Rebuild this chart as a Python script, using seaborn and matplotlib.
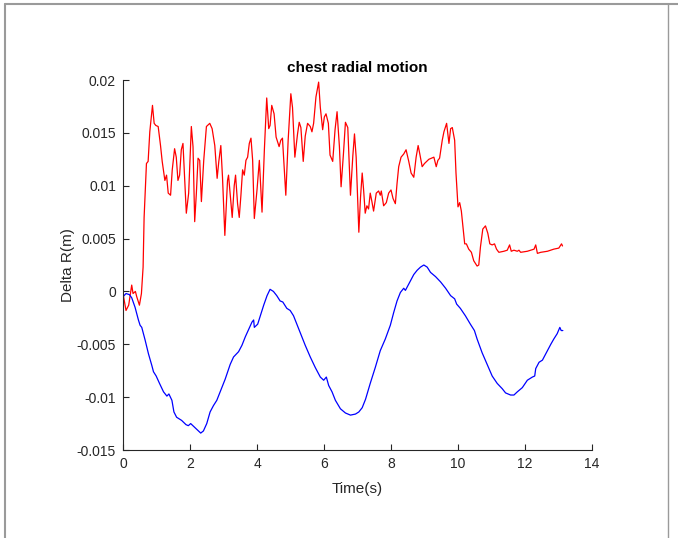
import numpy as np
import pandas as pd
import matplotlib
matplotlib.use("Agg")
import matplotlib.pyplot as plt
from matplotlib.lines import Line2D
import seaborn as sns

# ---- data ----
t_red = [0.00, 0.09, 0.17, 0.26, 0.30, 0.37, 0.41, 0.49, 0.55, 0.60, 0.63, 0.70, 0.75, 0.80, 0.88, 0.93, 0.98,
         1.05, 1.12, 1.17, 1.25, 1.30, 1.35, 1.42, 1.47, 1.54, 1.59, 1.64, 1.69, 1.74, 1.79, 1.89, 1.96,
         2.04, 2.09, 2.14, 2.19, 2.24, 2.29, 2.34, 2.41, 2.49, 2.59, 2.66, 2.74, 2.81, 2.86, 2.92, 2.97,
         3.04, 3.12, 3.15, 3.26, 3.32, 3.36, 3.42, 3.47, 3.52, 3.57, 3.62, 3.67, 3.72, 3.77, 3.82, 3.87,
         3.92, 4.00, 4.07, 4.15, 4.22, 4.29, 4.35, 4.39, 4.44, 4.51, 4.57, 4.66, 4.71, 4.76, 4.86, 4.93,
         5.01, 5.06, 5.13, 5.21, 5.26, 5.31, 5.38, 5.44, 5.51, 5.59, 5.64, 5.69, 5.76, 5.84, 5.89, 5.96,
         6.01, 6.06, 6.13, 6.18, 6.26, 6.33, 6.39, 6.46, 6.51, 6.58, 6.64, 6.71, 6.79, 6.86, 6.91, 6.96,
         7.04, 7.09, 7.14, 7.18, 7.23, 7.28, 7.33, 7.38, 7.43, 7.48, 7.56, 7.63, 7.68, 7.71, 7.78, 7.86,
         7.93, 8.00, 8.06, 8.13, 8.18, 8.23, 8.30, 8.38, 8.45, 8.53, 8.60, 8.68, 8.75, 8.81, 8.86, 8.93,
         9.00, 9.13, 9.28, 9.35, 9.40, 9.45, 9.53, 9.58, 9.66, 9.73, 9.78, 9.83, 9.90, 9.94, 10.00, 10.05,
         10.10, 10.15, 10.20, 10.25, 10.32, 10.40, 10.47, 10.57, 10.62, 10.67, 10.74, 10.82, 10.89, 10.95,
         11.02, 11.09, 11.15, 11.22, 11.37, 11.47, 11.54, 11.59, 11.67, 11.77, 11.82, 11.87, 12.07, 12.27,
         12.32, 12.37, 12.47, 12.67, 12.86, 13.01, 13.09, 13.12]
v_red = [-0.0002, -0.0018, -0.0013, 0.0006, -0.0002, 0.0000, -0.0005, -0.0013, -0.0002, 0.0023, 0.0070, 0.0121, 0.0123, 0.0151, 0.0176, 0.0159, 0.0157,
         0.0156, 0.0138, 0.0123, 0.0105, 0.0110, 0.0093, 0.0091, 0.0115, 0.0135, 0.0127, 0.0105, 0.0110, 0.0134, 0.0140, 0.0074, 0.0093,
         0.0156, 0.0137, 0.0066, 0.0093, 0.0126, 0.0124, 0.0085, 0.0124, 0.0156, 0.0159, 0.0154, 0.0138, 0.0107, 0.0123, 0.0138, 0.0108,
         0.0053, 0.0105, 0.0110, 0.0070, 0.0100, 0.0110, 0.0083, 0.0070, 0.0091, 0.0115, 0.0110, 0.0124, 0.0127, 0.0140, 0.0145, 0.0124,
         0.0069, 0.0096, 0.0124, 0.0075, 0.0134, 0.0183, 0.0154, 0.0157, 0.0176, 0.0168, 0.0146, 0.0137, 0.0143, 0.0145, 0.0091, 0.0143,
         0.0187, 0.0174, 0.0127, 0.0149, 0.0160, 0.0155, 0.0123, 0.0147, 0.0159, 0.0156, 0.0151, 0.0159, 0.0184, 0.0198, 0.0174, 0.0153,
         0.0165, 0.0168, 0.0159, 0.0129, 0.0123, 0.0153, 0.0170, 0.0137, 0.0099, 0.0130, 0.0160, 0.0155, 0.0091, 0.0128, 0.0149, 0.0127,
         0.0056, 0.0089, 0.0112, 0.0097, 0.0074, 0.0081, 0.0078, 0.0093, 0.0085, 0.0076, 0.0093, 0.0095, 0.0091, 0.0095, 0.0081, 0.0084,
         0.0093, 0.0096, 0.0088, 0.0083, 0.0102, 0.0118, 0.0127, 0.0130, 0.0134, 0.0123, 0.0112, 0.0108, 0.0127, 0.0138, 0.0130, 0.0118,
         0.0121, 0.0125, 0.0127, 0.0118, 0.0124, 0.0126, 0.0143, 0.0151, 0.0159, 0.0140, 0.0154, 0.0155, 0.0143, 0.0112, 0.0080, 0.0084,
         0.0076, 0.0061, 0.0045, 0.0045, 0.0040, 0.0037, 0.0029, 0.0024, 0.0025, 0.0042, 0.0059, 0.0062, 0.0055, 0.0045,
         0.0044, 0.0045, 0.0040, 0.0037, 0.0038, 0.0039, 0.0044, 0.0038, 0.0039, 0.0038, 0.0039, 0.0037, 0.0038, 0.0040,
         0.0044, 0.0036, 0.0037, 0.0038, 0.0040, 0.0041, 0.0045, 0.0043]

t_blue = [0.00, 0.09, 0.19, 0.26, 0.36, 0.46, 0.51, 0.56, 0.66, 0.76, 0.86, 0.91, 0.99, 1.09, 1.21, 1.31, 1.37,
          1.46, 1.52, 1.60, 1.75, 1.88, 1.95, 2.02, 2.12, 2.22, 2.32, 2.40, 2.50, 2.60, 2.70, 2.80, 2.90,
          3.05, 3.20, 3.30, 3.45, 3.55, 3.65, 3.75, 3.85, 3.90, 3.92, 4.02, 4.10, 4.20, 4.30, 4.39, 4.44,
          4.49, 4.59, 4.69, 4.77, 4.89, 4.99, 5.09, 5.19, 5.29, 5.44, 5.59, 5.74, 5.89, 5.99, 6.07, 6.14,
          6.24, 6.34, 6.49, 6.64, 6.79, 6.94, 7.04, 7.14, 7.24, 7.38, 7.53, 7.68, 7.83, 7.98, 8.08, 8.18,
          8.28, 8.38, 8.43, 8.48, 8.58, 8.68, 8.78, 8.88, 8.98, 9.08, 9.18, 9.33, 9.48, 9.63, 9.78, 9.90,
          9.96, 10.07, 10.22, 10.37, 10.49, 10.57, 10.72, 10.87, 11.02, 11.17, 11.32, 11.42, 11.57, 11.67,
          11.77, 11.92, 12.07, 12.22, 12.29, 12.32, 12.42, 12.52, 12.57, 12.67, 12.77, 12.86, 12.96, 13.04,
          13.08, 13.13]
v_blue = [-0.0005, -0.0002, -0.0003, -0.0006, -0.0015, -0.0027, -0.0032, -0.0034, -0.0046, -0.0059, -0.0070, -0.0076, -0.0080, -0.0087, -0.0095, -0.0099, -0.0097,
          -0.0103, -0.0114, -0.0119, -0.0122, -0.0126, -0.0127, -0.0125, -0.0128, -0.0131, -0.0134, -0.0132, -0.0125, -0.0114, -0.0108, -0.0103, -0.0095,
          -0.0083, -0.0069, -0.0062, -0.0057, -0.0051, -0.0043, -0.0036, -0.0029, -0.0027, -0.0034, -0.0031, -0.0023, -0.0013, -0.0004, 0.0002, 0.0001,
          0.0000, -0.0004, -0.0009, -0.0010, -0.0016, -0.0018, -0.0023, -0.0031, -0.0039, -0.0051, -0.0062, -0.0072, -0.0081, -0.0084, -0.0081, -0.0089,
          -0.0095, -0.0103, -0.0111, -0.0115, -0.0117, -0.0116, -0.0114, -0.0110, -0.0102, -0.0087, -0.0072, -0.0056, -0.0045, -0.0032, -0.0020, -0.0009,
          -0.0001, 0.0003, 0.0001, 0.0004, 0.0010, 0.0016, 0.0020, 0.0023, 0.0025, 0.0023, 0.0018, 0.0014, 0.0009, 0.0003, -0.0004, -0.0007,
          -0.0012, -0.0016, -0.0023, -0.0031, -0.0037, -0.0045, -0.0058, -0.0069, -0.0080, -0.0087, -0.0092, -0.0096, -0.0098, -0.0098,
          -0.0095, -0.0091, -0.0084, -0.0081, -0.0080, -0.0073, -0.0067, -0.0065, -0.0062, -0.0056, -0.0050, -0.0045, -0.0040, -0.0034,
          -0.0037, -0.0037]

x_ticks = [0, 2, 4, 6, 8, 10, 12, 14]
y_ticks = [-0.015, -0.01, -0.005, 0, 0.005, 0.01, 0.015, 0.02]
y_tick_labels = ["-0.015", "-0.01", "-0.005", "0", "0.005", "0.01", "0.015", "0.02"]

title = "chest radial motion"
xlabel = "Time(s)"
ylabel = "Delta R(m)"

# ---- style ----
sns.set_theme(style="ticks")
plt.rcParams["font.family"] = ["Liberation Sans", "DejaVu Sans"]
plt.rcParams["xtick.direction"] = "in"
plt.rcParams["ytick.direction"] = "in"

fig = plt.figure(figsize=(6.78, 5.38), dpi=100)
fig.patch.set_facecolor("white")
W, H = 678, 538
ax = fig.add_axes([123 / W, 1 - 450 / H, (592 - 123) / W, (450 - 80) / H])

red_df = pd.DataFrame({"t": t_red, "v": v_red})
blue_df = pd.DataFrame({"t": t_blue, "v": v_blue})
sns.lineplot(data=red_df, x="t", y="v", ax=ax, color="#ff0000", lw=0.9, estimator=None, sort=False)
sns.lineplot(data=blue_df, x="t", y="v", ax=ax, color="#0000ff", lw=0.9, estimator=None, sort=False)

ax.set_xlim(0, 14)
ax.set_ylim(-0.015, 0.02)
ax.set_xticks(x_ticks)
ax.set_xticklabels([str(v) for v in x_ticks])
ax.set_yticks(y_ticks)
ax.set_yticklabels(y_tick_labels)

dark = "#262626"
for s in ["top", "right"]:
    ax.spines[s].set_visible(False)
for s in ["left", "bottom"]:
    ax.spines[s].set_color(dark)
    ax.spines[s].set_linewidth(0.8)
ax.tick_params(axis="both", colors=dark, labelsize=10, length=4, width=0.8, pad=5)

ax.set_title(title, fontsize=11, fontweight="bold", color="black", pad=6)
ax.set_xlabel(xlabel, fontsize=11, color=dark, labelpad=8)
ax.set_ylabel(ylabel, fontsize=11, color=dark, labelpad=1)

# figure frame
gray = "#9a9a9a"
fig.add_artist(Line2D([5 / W, 5 / W], [0, 1 - 4 / H], color=gray, lw=1.5, transform=fig.transFigure))
fig.add_artist(Line2D([5 / W, 1], [1 - 4 / H, 1 - 4 / H], color=gray, lw=1.5, transform=fig.transFigure))
fig.add_artist(Line2D([668 / W, 668 / W], [0, 1 - 4 / H], color=gray, lw=1.0, transform=fig.transFigure))

fig.savefig("out.png", dpi=100)
